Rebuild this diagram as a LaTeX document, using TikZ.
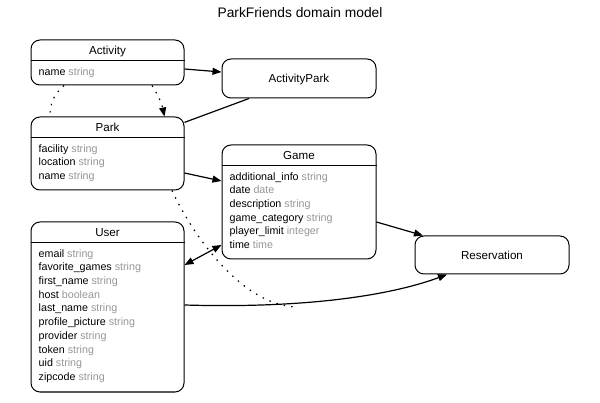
\documentclass[tikz,border=0pt]{standalone}
\usepackage{fontspec}
\setmainfont{Liberation Sans}
\usetikzlibrary{arrows.meta}
\definecolor{typegray}{RGB}{150,150,150}
\newcommand\attrow[2]{#1 \textcolor{typegray}{#2}}

\begin{document}
\begin{tikzpicture}[x=1pt,y=-1pt,>={Triangle[length=9pt,width=7pt]},
entity/.style={draw,
line width=1pt,
rounded corners=9pt,
minimum width=153pt,
inner sep=0pt,
font=\fontsize{11.6}{14}\selectfont,
text height=8.4pt,
text depth=0pt
},
head/.style={anchor=base,
inner sep=0pt,
font=\fontsize{11.6}{14}\selectfont
},
attrs/.style={anchor=north west,
align=left,
inner sep=0pt,
font=\fontsize{10.7}{13.7}\selectfont
},
rel/.style={line width=1.2pt},
thru/.style={line width=1.2pt,dash pattern=on 1.5pt off 6pt}
]
\useasboundingbox (0,0) rectangle (600,403);
\node[anchor=base,inner sep=0pt,font=\fontsize{13.8}{16}\selectfont]at(300,17.5)(title){ParkFriends domain model};
% entities
\node[entity,minimum height=45pt]at(107.5,62.5)(activity){};
\node[head]at(107.5,55)(activity-head){Activity};
\draw[line width=1pt]([yshift=-21pt]activity.north west)--([yshift=-21pt]activity.north east);
\node[attrs]at(38.5,65.4)(activity-attrs){\strut\attrow{name}{string}};
\node[entity,minimum width=154pt,minimum height=39pt]at(299,78.5)(activitypark){ActivityPark};
\node[entity,minimum height=73pt]at(107.5,153.5)(park){};
\node[head]at(107.5,132)(park-head){Park};
\draw[line width=1pt]([yshift=-21pt]park.north west)--([yshift=-21pt]park.north east);
\node[attrs]at(38.5,142.4)(park-attrs){\strut\attrow{facility}{string}\\\attrow{location}{string}\\\attrow{name}{string}};
\node[entity,minimum width=154pt,minimum height=114pt]at(299,202)(game){};
\node[head]at(299,160)(game-head){Game};
\draw[line width=1pt]([yshift=-21pt]game.north west)--([yshift=-21pt]game.north east);
\node[attrs]at(229.5,170.4)(game-attrs){\strut\attrow{additional\_info}{string}\\\attrow{date}{date}\\\attrow{description}{string}\\\attrow{game\_category}{string}\\\attrow{player\_limit}{integer}\\\attrow{time}{time}};
\node[entity,minimum height=170pt]at(107.5,307)(user){};
\node[head]at(107.5,237)(user-head){User};
\draw[line width=1pt]([yshift=-21pt]user.north west)--([yshift=-21pt]user.north east);
\node[attrs]at(38.5,247.4)(user-attrs){\strut\attrow{email}{string}\\\attrow{favorite\_games}{string}\\\attrow{first\_name}{string}\\\attrow{host}{boolean}\\\attrow{last\_name}{string}\\\attrow{profile\_picture}{string}\\\attrow{provider}{string}\\\attrow{token}{string}\\\attrow{uid}{string}\\\attrow{zipcode}{string}};
\node[entity,minimum width=154pt,minimum height=38pt]at(492,255)(reservation){Reservation};
\coordinate (join) at (298,307);
% relations
\draw[rel,->]([yshift=-6.5pt]activity.east)--([yshift=6.5pt]activitypark.west);
\draw[rel]([xshift=-50pt]activitypark.south)--(park.22);
\draw[thru]([xshift=-43.5pt]activity.south) to[bend right=25] ([xshift=-57.5pt]park.north);
\draw[thru,->]([xshift=44.5pt]activity.south) to[bend left=10] ([xshift=57pt]park.north);
\draw[rel,->]([yshift=-19.5pt]park.east)--([yshift=21pt]game.west);
\draw[rel,->]([yshift=-20pt]game.east)--([xshift=-69pt]reservation.north);
\draw[rel,<->]([yshift=-43pt]game.west)--([yshift=42pt]user.east);
\draw[rel,->]([yshift=2pt]user.east) .. controls (320,309) and (400,292) .. ([xshift=-45pt]reservation.south);
\draw[thru]([xshift=64.5pt]park.south) .. controls (195,240) and (245,307) .. (join);
%\draw[thru] (join)--(reservation);
\end{tikzpicture}
\end{document}
